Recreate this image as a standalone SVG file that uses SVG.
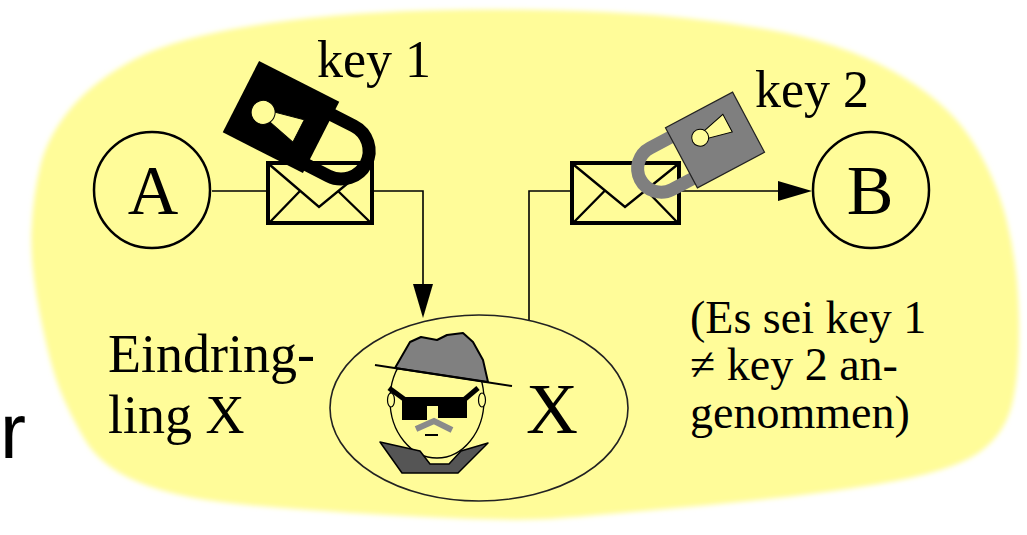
<svg xmlns="http://www.w3.org/2000/svg" width="1027" height="535" viewBox="0 0 1027 535">
  <style>
    .serif { font-family: "Liberation Serif", "Times New Roman", serif; fill: #000; }
    .big { font-size: 70px; text-anchor: middle; }
    .key { font-size: 52px; }
    .side { font-size: 54px; }
    .note { font-size: 46px; }
    .conn { fill: none; stroke: #000; stroke-width: 1.6; }
    .env-box { fill: #FFFC99; stroke: #000; stroke-width: 4; }
    .env-fold { fill: none; stroke: #000; stroke-width: 2.4; }
    .hole { fill: #FFFC99; stroke: #000; stroke-width: 1; }
    .party { fill: #FFFC99; stroke: #000; stroke-width: 2.5; }
  </style>
  <defs>
    <filter id="soft" x="-5%" y="-5%" width="110%" height="110%">
      <feGaussianBlur stdDeviation="2.5"/>
    </filter>
    <marker id="arrow" markerUnits="userSpaceOnUse" markerWidth="34" markerHeight="20"
            refX="30" refY="10" orient="auto">
      <path d="M0,0 L34,10 L0,20 Z" fill="#000"/>
    </marker>
  </defs>

  <rect width="1027" height="535" fill="#fff"/>

  <!-- cut-off slide text at the left margin -->
  <text x="0" y="458" font-family="Liberation Sans, Arial, sans-serif" font-size="78" fill="#000">r</text>

  <!-- yellow backdrop -->
  <path id="backdrop" filter="url(#soft)" fill="#FFFC99"
        d="M135,59 Q175,38 254,25.5 Q333,13 426.5,10.5 Q520,8 605,12 Q690,16 765,29
           Q840,42 892.5,71 Q945,100 970,137.5 Q995,175 1006.5,220 Q1018,265 1019,317.5
           Q1020,370 1012.5,402.5 Q1005,435 977.5,453.5 Q950,472 878.5,484 Q807,496 703.5,505.5
           Q600,515 555,518.5 Q510,522 388.5,515 Q267,508 217,501.5 Q167,495 133.5,480
           Q100,465 85,440 Q70,415 60,390 Q50,365 40,315 Q30,265 31.5,230 Q33,195 40.5,165
           Q48,135 71.5,107.5 Q95,80 135,59 Z"/>

  <!-- connectors -->
  <g id="connectors">
    <path class="conn" d="M212,191 H268"/>
    <path class="conn" d="M372,191 H423 V314" marker-end="url(#arrow)"/>
    <path class="conn" d="M529,320 V191 H572"/>
    <path class="conn" d="M679,191 H808" marker-end="url(#arrow)"/>
  </g>

  <!-- sender -->
  <g id="node-A">
    <circle class="party" cx="152" cy="190" r="58"/>
    <text class="serif big" x="153" y="214">A</text>
  </g>

  <!-- receiver -->
  <g id="node-B">
    <circle class="party" cx="871" cy="190" r="58"/>
    <text class="serif big" x="870" y="214">B</text>
  </g>

  <!-- letter on the way to X -->
  <g id="envelope-1">
    <rect class="env-box" x="268" y="163" width="104" height="60"/>
    <path class="env-fold" d="M270,165 L319,207 L370,165 M270,222 L300,191 M370,222 L338,191"/>
  </g>

  <!-- black padlock: key 1 -->
  <g id="lock-1" transform="translate(281,117) rotate(117)">
    <path d="M-25,-40 V-69 A28,28 0 0 1 31,-69 V-40" fill="none" stroke="#000" stroke-width="13"/>
    <rect x="-40" y="-45" width="80" height="90" fill="#000"/>
    <polygon class="hole" points="-1,10 9,10 17,-22 -8,-22"/>
    <circle class="hole" cx="4" cy="18" r="12"/>
  </g>
  <text class="serif key" x="317" y="77">key 1</text>

  <!-- letter on the way to B -->
  <g id="envelope-2">
    <rect class="env-box" x="572" y="163" width="107" height="60"/>
    <path class="env-fold" d="M574,165 L625,207 L677,165 M574,222 L605,190.5 M677,222 L646,190"/>
  </g>

  <!-- grey padlock: key 2 -->
  <g id="lock-2" transform="translate(715,140) rotate(-118)">
    <path d="M-23.5,-36 V-61 A23.5,23.5 0 0 1 23.5,-61 V-36" fill="none" stroke="#7f7f7f" stroke-width="13"/>
    <rect x="-34" y="-38" width="68" height="76" fill="#7f7f7f" stroke="#222" stroke-width="1.2"/>
    <polygon class="hole" points="5,-6 13,-6 19,19 -1,19"/>
    <circle class="hole" cx="9" cy="-12" r="8.5"/>
  </g>
  <text class="serif key" x="755" y="107">key 2</text>

  <!-- intruder X -->
  <g id="intruder">
    <ellipse cx="479" cy="408" rx="149" ry="93" fill="none" stroke="#222" stroke-width="1.6"/>
    <ellipse cx="437" cy="400" rx="47" ry="58" fill="#FFFC99" stroke="#000" stroke-width="1.3"/>
    <ellipse cx="391" cy="400" rx="3.5" ry="7" fill="#FFFC99" stroke="#000" stroke-width="1.2"/>
    <ellipse cx="482" cy="400" rx="3.5" ry="7" fill="#FFFC99" stroke="#000" stroke-width="1.2"/>
    <!-- hat -->
    <polygon points="395,368 410,342 421,337 437,340 447,335 463,333 473,342 483,360 488,382"
             fill="#808080" stroke="#000" stroke-width="2" stroke-linejoin="round"/>
    <line x1="375" y1="365" x2="512" y2="386" stroke="#000" stroke-width="2"/>
    <!-- sunglasses -->
    <line x1="389" y1="388" x2="404" y2="399" stroke="#000" stroke-width="5"/>
    <line x1="478" y1="388" x2="465" y2="399" stroke="#000" stroke-width="5"/>
    <polygon points="402,397 467,397 467,418 438,418 438,406 427,406 427,420 402,420" fill="#000"/>
    <!-- moustache and mouth -->
    <polyline points="416,429 434,421 452,430" fill="none" stroke="#8a8a8a" stroke-width="6"/>
    <line x1="425" y1="435" x2="438" y2="435" stroke="#000" stroke-width="2"/>
    <!-- beard -->
    <polygon points="380,442 402,473 458,473 488,443 461,451 449,464 430,464 420,451"
             fill="#555" stroke="#000" stroke-width="1.5" stroke-linejoin="round"/>
    <text class="serif" x="552" y="433" font-size="72" text-anchor="middle">X</text>
  </g>

  <text class="serif side" x="108" y="372">Eindring-</text>
  <text class="serif side" x="108" y="433">ling X</text>

  <text class="serif note" x="690" y="333">(Es sei key 1</text>
  <text class="serif note" x="690" y="380">≠ key 2 an-</text>
  <text class="serif note" x="690" y="428">genommen)</text>
</svg>
